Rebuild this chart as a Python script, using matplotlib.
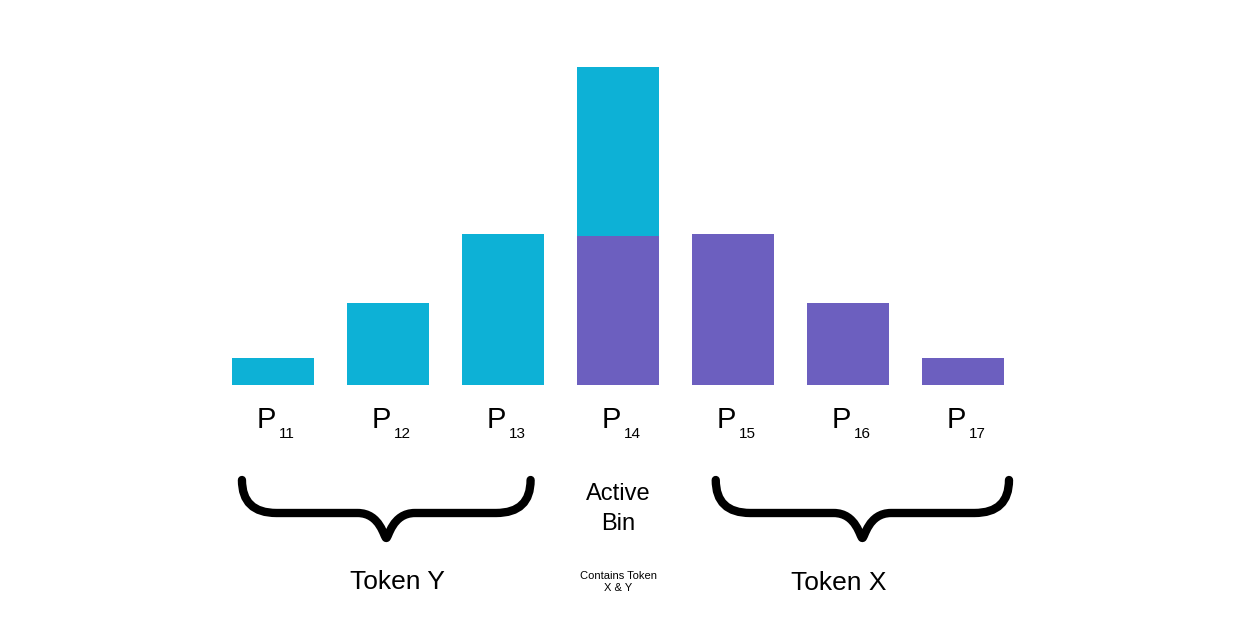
import matplotlib
matplotlib.use('Agg')
import matplotlib.pyplot as plt
from matplotlib.path import Path
from matplotlib.patches import PathPatch

plt.rcParams['font.family'] = ['Liberation Sans', 'DejaVu Sans']

labels = ['11', '12', '13', '14', '15', '16', '17']
token_y = [27, 82, 151, 169, 0, 0, 0]
token_x = [0, 0, 0, 149, 151, 82, 27]
cyan = '#0DB1D6'
purple = '#6C5FBF'

fig = plt.figure(figsize=(12.57, 6.37), dpi=100)
ax = fig.add_axes([0, 0, 1, 1])
ax.set_xlim(-273 / 115, (1257 - 273) / 115)
ax.set_ylim(-252, 385)
ax.axis('off')

xs = range(len(labels))
ax.bar(xs, token_x, width=0.71, color=purple, linewidth=0)
ax.bar(xs, token_y, width=0.71, bottom=token_x, color=cyan, linewidth=0)

for i, lab in enumerate(labels):
    ax.text(i + 0.03, -35, 'P', fontsize=21, ha='right', va='center')
    ax.text(i + 0.05, -49, lab, fontsize=11, ha='left', va='center')


def brace(x0, x1, ytop, ybot):
    xm = (x0 + x1) / 2
    verts = [(x0, ytop), (x0, ybot), (x0 + 0.3, ybot),
             (xm - 0.25, ybot),
             (xm - 0.05, ybot), (xm - 0.02, ybot - 25), (xm, ybot - 25),
             (xm + 0.02, ybot - 25), (xm + 0.05, ybot), (xm + 0.25, ybot),
             (x1 - 0.3, ybot),
             (x1, ybot), (x1, ytop)]
    codes = [Path.MOVETO, Path.CURVE3, Path.CURVE3,
             Path.LINETO,
             Path.CURVE4, Path.CURVE4, Path.CURVE4,
             Path.CURVE4, Path.CURVE4, Path.CURVE4,
             Path.LINETO,
             Path.CURVE3, Path.CURVE3]
    ax.add_patch(PathPatch(Path(verts, codes), fill=False, lw=6,
                           capstyle='round', joinstyle='round'))


brace(-0.27, 2.24, -95, -128)
brace(3.85, 6.4, -95, -128)

ax.text(1.08, -197, 'Token Y', fontsize=19, ha='center', va='center')
ax.text(4.92, -198, 'Token X', fontsize=19, ha='center', va='center')
ax.text(3, -124, 'Active\nBin', fontsize=17, ha='center', va='center', linespacing=1.45)
ax.text(3, -197, 'Contains Token\nX & Y', fontsize=8, ha='center', va='center')

fig.savefig('out.png', dpi=100)
